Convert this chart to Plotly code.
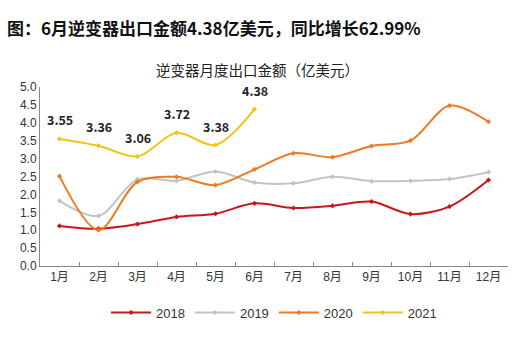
import plotly.graph_objects as go

months = ["1月", "2月", "3月", "4月", "5月", "6月", "7月", "8月", "9月", "10月", "11月", "12月"]
v2018 = [1.12, 1.04, 1.17, 1.37, 1.46, 1.75, 1.62, 1.68, 1.80, 1.45, 1.66, 2.40]
v2019 = [1.82, 1.40, 2.42, 2.38, 2.64, 2.33, 2.31, 2.49, 2.37, 2.38, 2.43, 2.62]
v2020 = [2.51, 1.00, 2.35, 2.49, 2.26, 2.70, 3.15, 3.04, 3.35, 3.50, 4.48, 4.03]
v2021 = [3.55, 3.36, 3.06, 3.72, 3.38, 4.38]
yticks = [0.0, 0.5, 1.0, 1.5, 2.0, 2.5, 3.0, 3.5, 4.0, 4.5, 5.0]

series = [
    ("2018", v2018, "#C8161D"),
    ("2019", v2019, "#C3C3C3"),
    ("2020", v2020, "#EE7A22"),
    ("2021", v2021, "#F5C21B"),
]

font_cn = "Microsoft YaHei, Noto Sans CJK SC, sans-serif"
font_num = "Arial, Liberation Sans, Noto Sans CJK SC, sans-serif"

fig = go.Figure()
for name, vals, color in series:
    fig.add_trace(go.Scatter(
        x=months[:len(vals)], y=vals, name=name,
        mode="lines+markers",
        line=dict(color=color, width=2, shape="spline", smoothing=0.9),
        marker=dict(color=color, size=4, symbol="diamond"),
    ))

# value labels on the 2021 series
for m, v in zip(months, v2021):
    fig.add_annotation(
        x=m, y=v, text=f"<b>{v:.2f}</b>", showarrow=False,
        yshift=19, font=dict(size=12.5, color="#222222", family=font_cn),
    )

fig.add_annotation(
    xref="paper", yref="paper", x=-0.075, y=1.33, xanchor="left", yanchor="middle",
    text="<b>图：6月逆变器出口金额4.38亿美元，同比增长62.99%</b>",
    showarrow=False, font=dict(size=17, color="#111111", family=font_cn),
)
fig.add_annotation(
    xref="paper", yref="paper", x=0.465, y=1.095, xanchor="center", yanchor="middle",
    text="逆变器月度出口金额（亿美元）",
    showarrow=False, font=dict(size=14.5, color="#222222", family=font_cn),
)

fig.update_layout(
    width=516, height=345,
    margin=dict(l=40, r=8, t=87, b=79),
    paper_bgcolor="white", plot_bgcolor="white",
    font=dict(family=font_num, size=12, color="#333333"),
    showlegend=True,
    legend=dict(
        orientation="h", x=0.5, xanchor="center", y=-0.26, yanchor="middle",
        font=dict(size=13, color="#333333", family=font_num), itemwidth=40,
        traceorder="normal",
    ),
)
fig.update_xaxes(
    type="category", categoryorder="array", categoryarray=months,
    range=[-0.5, 11.5], showline=True, linecolor="#888888", linewidth=1,
    ticks="inside", ticklen=4, tickcolor="#888888", tickson="boundaries",
    showgrid=False, zeroline=False, tickfont=dict(size=12, color="#333333", family=font_num),
)
fig.update_yaxes(
    range=[0, 5], tickvals=yticks, ticktext=[f"{t:.1f}" for t in yticks],
    showline=True, linecolor="#888888", linewidth=1, ticks="",
    showgrid=False, zeroline=False, tickfont=dict(size=12, color="#333333", family=font_num),
)

fig.write_html("out.html")
